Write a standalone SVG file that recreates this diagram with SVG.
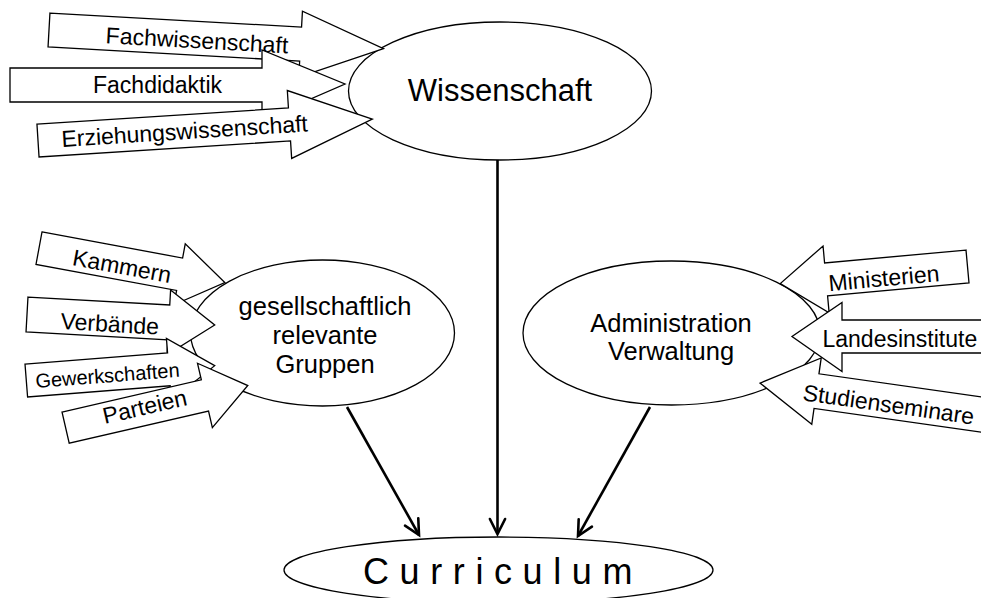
<svg xmlns="http://www.w3.org/2000/svg" width="981" height="598" viewBox="0 0 981 598">
<style>
.bg{fill:#fff}
.el{fill:#fff;stroke:#000;stroke-width:1.3}
.ar{fill:#fff;stroke:#000;stroke-width:1.3;stroke-linejoin:miter}
.t{font-family:"Liberation Sans",Arial,sans-serif;fill:#000}
.at{font-size:23px}
.nt{font-size:25.5px;text-anchor:middle}
.cn{stroke:#000;stroke-width:2.6;fill:none}
</style>
<defs>
<marker id="oa" markerUnits="userSpaceOnUse" viewBox="-20 -12 24 24" refX="0" refY="0" markerWidth="24" markerHeight="24" orient="auto">
<path d="M-15,-7.6 L0,0 L-15,7.6" fill="none" stroke="#000" stroke-width="2.6" stroke-linecap="round" stroke-linejoin="miter"/>
</marker>
</defs>
<rect class="bg" x="0" y="0" width="981" height="598"/>

<g id="wissenschaft">
<ellipse class="el" cx="500" cy="91" rx="151.5" ry="69"/>
<text class="t" x="500" y="101" font-size="31" text-anchor="middle">Wissenschaft</text>
</g>
<g id="gesellschaft">
<ellipse class="el" cx="322.5" cy="333" rx="132" ry="73"/>
<text class="t nt" x="325" y="315">gesellschaftlich</text>
<text class="t nt" x="325" y="344">relevante</text>
<text class="t nt" x="325" y="373">Gruppen</text>
</g>
<g id="administration">
<ellipse class="el" cx="671.5" cy="333" rx="148.5" ry="72"/>
<text class="t nt" x="671" y="332">Administration</text>
<text class="t nt" x="671" y="360">Verwaltung</text>
</g>
<g id="curriculum">
<ellipse class="el" cx="498.5" cy="570" rx="214.5" ry="33"/>
<text class="t" x="363" y="584" font-size="36" letter-spacing="10.6">Curriculum</text>
</g>

<g id="fachwissenschaft" transform="translate(49,30) rotate(3.2)">
<path class="ar" d="M0,-17 H252 V-33 L335,0 L252,33 V17 H0 Z"/>
<text class="t at" x="57" y="10">Fachwissenschaft</text>
</g>
<g id="fachdidaktik" transform="translate(10,85)">
<path class="ar" d="M0,-17 H252 V-35 L335,-1 L252,35 V17 H0 Z"/>
<text class="t at" x="83" y="8">Fachdidaktik</text>
</g>
<g id="erziehungswissenschaft" transform="translate(38,140.5) rotate(-3.65)">
<path class="ar" d="M0,-16.5 H252 V-34 L335,0 L252,34 V16.5 H0 Z"/>
<text class="t at" x="23.5" y="8">Erziehungswissenschaft</text>
</g>

<g id="kammern" transform="translate(39,248.2) rotate(10.5)">
<path class="ar" d="M0,-16.5 H143 V-31 L189,0 L143,31 V16.5 H0 Z"/>
<text class="t at" x="35" y="10.5">Kammern</text>
</g>
<g id="verbaende" transform="translate(27,314.5) rotate(3.2)">
<path class="ar" d="M0,-17.5 H142 V-32.5 L188,0 L142,32.5 V17.5 H0 Z"/>
<text class="t at" x="34" y="12.7">Verbände</text>
</g>
<g id="gewerkschaften" transform="translate(26.3,380.5) rotate(-4.5)">
<path class="ar" d="M0,-16.5 H143 V-31 L189,0 L143,31 V16.5 H0 Z"/>
<text class="t" x="9" y="8.3" font-size="20">Gewerkschaften</text>
</g>
<g id="parteien" transform="translate(65.6,427.6) rotate(-13)">
<path class="ar" d="M0,-16 H143 V-33 L187,0 L143,33 V16 H0 Z"/>
<text class="t at" x="39" y="5.4">Parteien</text>
</g>

<g id="ministerien" transform="translate(967.5,266.5) rotate(-5.2)">
<path class="ar" d="M0,-16.5 H-142 V-33.5 L-188,0 L-142,33.5 V16.5 H0 Z"/>
<text class="t at" x="-140" y="12">Ministerien</text>
</g>
<g id="landesinstitute" transform="translate(1000,336.5)">
<path class="ar" d="M0,-16.5 H-158 V-34 L-208,0 L-158,35 V16.5 H0 Z"/>
<text class="t at" x="-177.5" y="10.2">Landesinstitute</text>
</g>
<g id="studienseminare" transform="translate(1014.5,419.3) rotate(8.1)">
<path class="ar" d="M0,-17.5 H-200 V-33.5 L-257,0 L-200,33.5 V17.5 H0 Z"/>
<text class="t at" x="-213" y="11">Studienseminare</text>
</g>

<g id="connectors">
<line class="cn" x1="497.5" y1="160" x2="497.5" y2="534" marker-end="url(#oa)"/>
<line class="cn" x1="347" y1="407" x2="419" y2="535" marker-end="url(#oa)"/>
<line class="cn" x1="650" y1="407" x2="578" y2="536" marker-end="url(#oa)"/>
</g>
</svg>
